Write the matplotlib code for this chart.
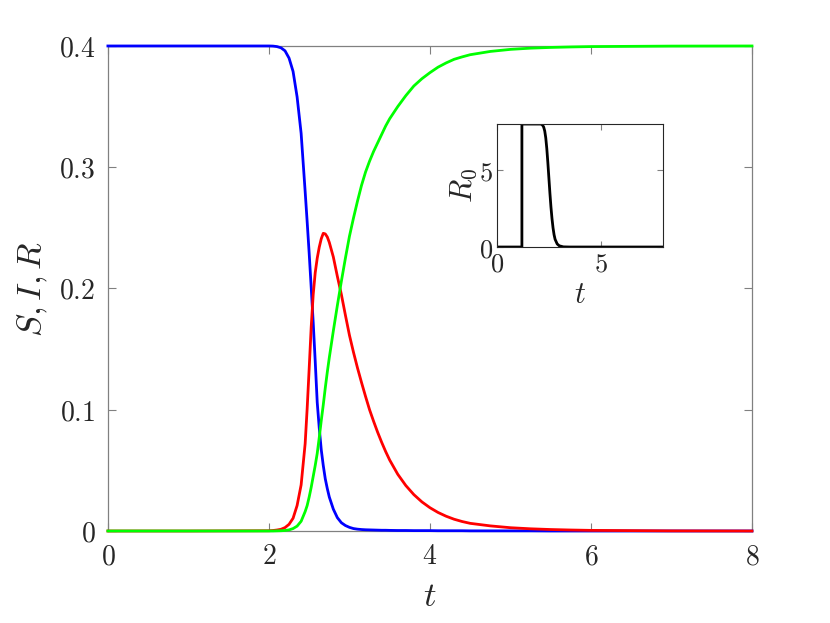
import numpy as np
import matplotlib
matplotlib.use("Agg")
from matplotlib import pyplot as plt
from matplotlib.ticker import FuncFormatter

plt.rcParams['mathtext.fontset'] = 'cm'
plt.rcParams['font.family'] = 'serif'
plt.rcParams['font.serif'] = ['DejaVu Serif']

# kurvide väärtused loetud pildilt
t = [0, 1.0, 2.0, 2.05, 2.1, 2.15, 2.2, 2.25, 2.3, 2.35, 2.4, 2.45, 2.475, 2.5, 2.525, 2.55,
     2.575, 2.6, 2.625, 2.65, 2.675, 2.7, 2.725, 2.75, 2.8, 2.85, 2.9, 2.95, 3.0, 3.05, 3.1,
     3.15, 3.2, 3.25, 3.3, 3.35, 3.4, 3.45, 3.5, 3.6, 3.7, 3.8, 3.9, 4.0, 4.1, 4.2, 4.3, 4.4,
     4.5, 4.75, 5.0, 5.25, 5.5, 5.75, 6.0, 7.0, 8.0]
S = [0.4, 0.4, 0.4, 0.3999, 0.3995, 0.3985, 0.396, 0.390, 0.379, 0.358, 0.328, 0.280, 0.255,
     0.229, 0.201, 0.172, 0.140, 0.106, 0.085, 0.067, 0.054, 0.043, 0.035, 0.028, 0.018,
     0.011, 0.0068, 0.0045, 0.003, 0.002, 0.0015, 0.0012, 0.001, 0.0009, 0.0008, 0.0007,
     0.0006, 0.0006, 0.0005, 0.0004, 0.0004, 0.0003, 0.0003, 0.0003, 0.0002, 0.0002, 0.0002,
     0.0002, 0.0001, 0.0001, 0.0001, 0.0001, 0.0, 0.0, 0.0, 0.0, 0.0]
I = [0.0, 0.0, 0.0002, 0.0004, 0.0008, 0.0014, 0.0028, 0.0055, 0.0105, 0.021, 0.038, 0.072,
     0.101, 0.134, 0.168, 0.195, 0.213, 0.225, 0.234, 0.241, 0.2455, 0.245, 0.2425, 0.238,
     0.226, 0.210, 0.195, 0.178, 0.1615, 0.1475, 0.1345, 0.1225, 0.111, 0.100, 0.0905,
     0.0815, 0.0732, 0.0655, 0.0585, 0.0468, 0.0375, 0.030, 0.024, 0.0192, 0.0153, 0.0122,
     0.0097, 0.0078, 0.0063, 0.0042, 0.0027, 0.0018, 0.0012, 0.0008, 0.0005, 0.0001, 0.0]
R = [0.0, 0.0, 0.0, 0.0, 0.0001, 0.0002, 0.0004, 0.0009, 0.002, 0.004, 0.008, 0.016, 0.021,
     0.028, 0.036, 0.045, 0.054, 0.064, 0.077, 0.091, 0.104, 0.118, 0.131, 0.143, 0.165,
     0.186, 0.206, 0.225, 0.243, 0.258, 0.272, 0.285, 0.296, 0.305, 0.313, 0.320, 0.327,
     0.334, 0.340, 0.350, 0.359, 0.367, 0.373, 0.378, 0.3825, 0.386, 0.389, 0.391, 0.3928,
     0.3955, 0.3972, 0.3982, 0.3988, 0.3992, 0.3995, 0.3999, 0.4]

# R0 sisendgraafik
t0 = [0, 1.2, 1.2, 2.1, 2.15, 2.2, 2.25, 2.3, 2.35, 2.4, 2.45, 2.5, 2.55, 2.6, 2.65, 2.7,
      2.75, 2.8, 2.9, 3.0, 3.2, 3.5, 8.0]
R0 = [0, 0, 8, 8, 7.98, 7.92, 7.8, 7.55, 7.1, 6.4, 5.5, 4.5, 3.5, 2.6, 1.85, 1.25, 0.8, 0.5,
      0.2, 0.08, 0.01, 0, 0]

xticks = [0, 2, 4, 6, 8]
yticks = [0, 0.1, 0.2, 0.3, 0.4]


def mfmt(v, pos):
    return '$' + ('%g' % v) + '$'


fig = plt.figure(figsize=(8.3, 6.23), dpi=100)
ax = fig.add_axes([0.130, 0.1477, 0.776, 0.7785])
ax.plot(t, S, color=(0, 0, 1), lw=2, clip_on=False, zorder=3)
ax.plot(t, I, color=(1, 0, 0), lw=2, clip_on=False, zorder=3)
ax.plot(t, R, color=(0, 1, 0), lw=2, clip_on=False, zorder=3)
ax.set_xlim(0, 8)
ax.set_ylim(0, 0.4)
ax.set_xticks(xticks)
ax.set_yticks(yticks)
ax.xaxis.set_major_formatter(FuncFormatter(mfmt))
ax.yaxis.set_major_formatter(FuncFormatter(mfmt))
ax.tick_params(direction='in', length=6, width=0.8, colors='#808080', labelcolor='#262626',
               labelsize=20, top=True, right=True, pad=9)
for sp in ax.spines.values():
    sp.set_color('#808080')
    sp.set_linewidth(0.9)
ax.set_xlabel('$t$', fontsize=25, color='#262626', labelpad=6)
ax.set_ylabel('$S, I, R$', fontsize=25, color='#262626', labelpad=6)

ins = fig.add_axes([0.5988, 0.6035, 0.2, 0.1974])
ins.plot(t0, R0, color='black', lw=2)
ins.set_xlim(0, 8)
ins.set_ylim(0, 8)
ins.set_xticks([0, 5])
ins.set_yticks([0, 5])
ins.xaxis.set_major_formatter(FuncFormatter(mfmt))
ins.yaxis.set_major_formatter(FuncFormatter(mfmt))
ins.tick_params(direction='in', length=4, width=0.8, colors='#808080', labelcolor='#262626',
                labelsize=19, top=True, right=True, pad=3)
for sp in ins.spines.values():
    sp.set_color('#262626')
    sp.set_linewidth(0.8)
ins.set_xlabel('$t$', fontsize=22, color='#262626', labelpad=2)
ins.set_ylabel('$R_0$', fontsize=22, color='#262626', labelpad=0)

fig.savefig('out.png', dpi=100)
